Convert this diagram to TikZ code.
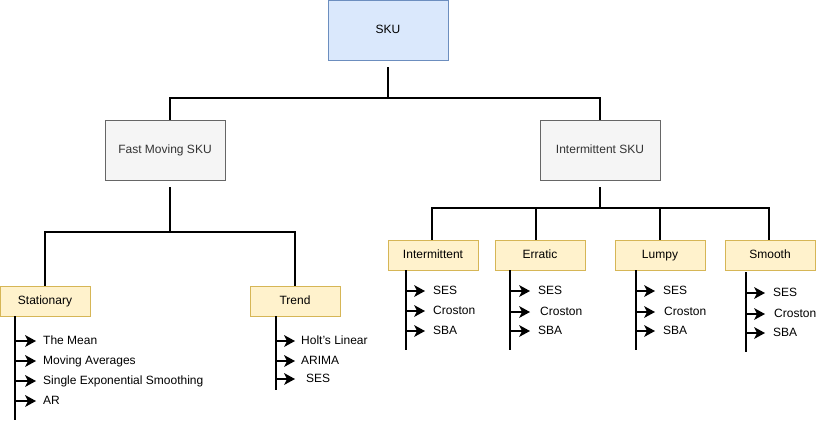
\documentclass[tikz,border=0pt]{standalone}
\usepackage{fontspec}
\setmainfont{Liberation Sans}
\usetikzlibrary{arrows.meta,positioning,calc}
\definecolor{bluefill}{HTML}{DAE8FC}
\definecolor{blueline}{HTML}{6C8EBF}
\definecolor{greyfill}{HTML}{F5F5F5}
\definecolor{greyline}{HTML}{666666}
\definecolor{greytext}{HTML}{333333}
\definecolor{yellowfill}{HTML}{FFF2CC}
\definecolor{yellowline}{HTML}{D6B656}
\tikzset{
  base/.style={font=\fontsize{12}{14}\selectfont, inner sep=0pt, text height=8.5pt, text depth=2.5pt},
  bluebox/.style={base, draw=blueline, fill=bluefill, line width=0.8pt, minimum width=120pt, minimum height=60pt},
  greybox/.style={base, draw=greyline, fill=greyfill, text=greytext, line width=0.8pt, minimum width=120pt, minimum height=60pt},
  yellowbox/.style={base, draw=yellowline, fill=yellowfill, line width=0.8pt, minimum width=90pt, minimum height=30pt},
  leaf/.style={base, anchor=west, text=black},
  tree/.style={line width=1.5pt, black},
  ahead/.pic={\fill[black] (0,0) -- (-11,-6) -- (-8,0) -- (-11,6) -- cycle;},
}
\begin{document}
\begin{tikzpicture}[x=1pt,y=-1pt]
\useasboundingbox (0,0) rectangle (827,424);

% top level
\node[bluebox] (sku) at (388,30) {SKU};
\node[greybox] (fast) at (165,150) {Fast Moving SKU};
\node[greybox] (inter) at (600,150) {Intermittent SKU};

\coordinate (j1) at (388,98);
\draw[tree] ([yshift=-7pt]sku.south) -- (j1) -| (170,120);
\draw[tree] (j1) -| (inter.north);

% fast moving children
\node[yellowbox] (stat) at (45,301) {Stationary};
\node[yellowbox] (trend) at (295,301) {Trend};
\coordinate (j2) at (170,232);
\draw[tree] (170,187) -- (j2) -| (stat.north);
\draw[tree] (j2) -| (trend.north);

% intermittent children
\node[yellowbox] (ic) at (433,255) {Intermittent};
\node[yellowbox] (er) at (540,255) {Erratic};
\node[yellowbox] (lu) at (660,255) {Lumpy};
\node[yellowbox] (sm) at (770,255) {Smooth};
\coordinate (j3) at (600,208);
\draw[tree] ([yshift=-7pt]inter.south) -- (j3) -| (432,240);
\draw[tree] (j3) -| (769,240);
\draw[tree] (536,208) -- (536,240);
\draw[tree] (660,208) -- (660,240);

% Stationary list
\draw[tree] (15,316) -- (15,420);
\node[leaf] (s1) at (43,341) {The Mean};
\node[leaf] (s2) at (43,361) {Moving Averages};
\node[leaf] (s3) at (43,381) {Single Exponential Smoothing};
\node[leaf] (s4) at (43,401) {AR};
\foreach \n in {s1,s2,s3,s4} \draw[tree] (\n.west -| 15,0) -- ([xshift=-12pt]\n.west) ([xshift=-7pt]\n.west) pic{ahead};

% Trend list
\draw[tree] (276,316) -- (276,390);
\node[leaf] (t1) at (301,341) {Holt{\char"27}s Linear};
\node[leaf] (t2) at (301,361) {ARIMA};
\node[leaf] (t3) at (306,379) {SES};
\draw[tree] (t1.west -| 276,0) -- ([xshift=-11pt]t1.west) ([xshift=-6pt]t1.west) pic{ahead};
\draw[tree] (t2.west -| 276,0) -- ([xshift=-11pt]t2.west) ([xshift=-6pt]t2.west) pic{ahead};
\draw[tree] (t3.west -| 276,0) -- ([xshift=-16pt]t3.west) ([xshift=-11pt]t3.west) pic{ahead};

% Intermittent list
\draw[tree] (406,270) -- (406,350);
\node[leaf] (i1) at (433,291) {SES};
\node[leaf] (i2) at (433,311) {Croston};
\node[leaf] (i3) at (433,331) {SBA};
\foreach \n in {i1,i2,i3} \draw[tree] (\n.west -| 406,0) -- ([xshift=-13pt]\n.west) ([xshift=-8pt]\n.west) pic{ahead};

% Erratic list
\draw[tree] (510,270) -- (510,350);
\node[leaf] (e1) at (538,291) {SES};
\node[leaf] (e2) at (540,312) {Croston};
\node[leaf] (e3) at (538,331) {SBA};
\draw[tree] (e1.west -| 510,0) -- ([xshift=-13pt]e1.west) ([xshift=-8pt]e1.west) pic{ahead};
\draw[tree] (e2.west -| 510,0) -- ([xshift=-15pt]e2.west) ([xshift=-10pt]e2.west) pic{ahead};
\draw[tree] (e3.west -| 510,0) -- ([xshift=-13pt]e3.west) ([xshift=-8pt]e3.west) pic{ahead};

% Lumpy list
\draw[tree] (636,270) -- (636,350);
\node[leaf] (l1) at (663,291) {SES};
\node[leaf] (l2) at (664,312) {Croston};
\node[leaf] (l3) at (663,331) {SBA};
\draw[tree] (l1.west -| 636,0) -- ([xshift=-13pt]l1.west) ([xshift=-8pt]l1.west) pic{ahead};
\draw[tree] (l2.west -| 636,0) -- ([xshift=-14pt]l2.west) ([xshift=-9pt]l2.west) pic{ahead};
\draw[tree] (l3.west -| 636,0) -- ([xshift=-13pt]l3.west) ([xshift=-8pt]l3.west) pic{ahead};

% Smooth list
\draw[tree] (746,272) -- (746,352);
\node[leaf] (m1) at (773,293) {SES};
\node[leaf] (m2) at (774,314) {Croston};
\node[leaf] (m3) at (773,333) {SBA};
\draw[tree] (m1.west -| 746,0) -- ([xshift=-13pt]m1.west) ([xshift=-8pt]m1.west) pic{ahead};
\draw[tree] (m2.west -| 746,0) -- ([xshift=-14pt]m2.west) ([xshift=-9pt]m2.west) pic{ahead};
\draw[tree] (m3.west -| 746,0) -- ([xshift=-13pt]m3.west) ([xshift=-8pt]m3.west) pic{ahead};
\end{tikzpicture}
\end{document}
